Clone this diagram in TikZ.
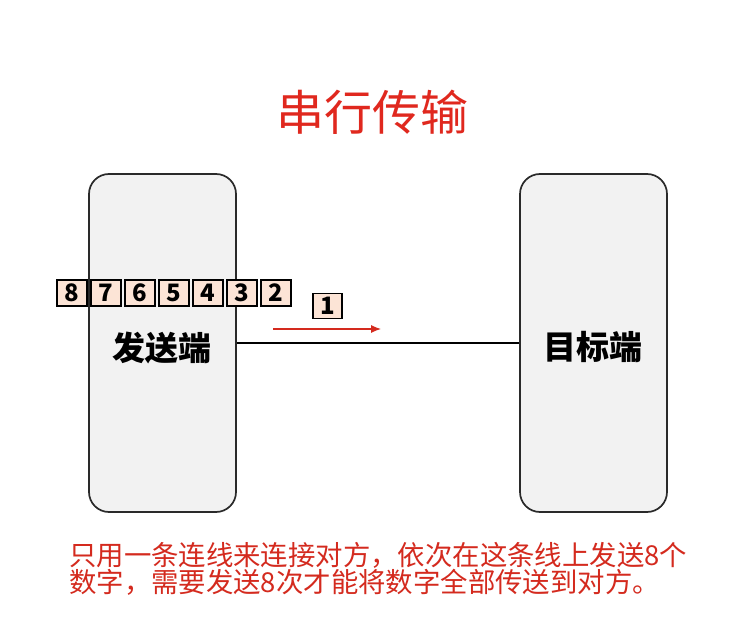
\documentclass[tikz,border=0pt]{standalone}
\usepackage{fontspec}
\setmainfont{Noto Sans CJK SC}
\newfontfamily\cjk{Noto Sans CJK SC}
\usetikzlibrary{arrows.meta}
\definecolor{titlered}{HTML}{E0281E}
\definecolor{notered}{HTML}{D42A1E}
\definecolor{endfill}{HTML}{F2F2F2}
\definecolor{endline}{HTML}{2A2A2A}
\definecolor{bitfill}{HTML}{FCE4D6}
\tikzset{
  endpoint/.style={draw=endline, line width=1.7pt, fill=endfill, rounded corners=20pt,
    minimum width=147pt, minimum height=338pt, inner sep=0pt},
  endlabel/.style={font=\cjk\bfseries\fontsize{33}{33}\selectfont, text=black, inner sep=0pt},
  bitbox/.style={draw=black, line width=1.4pt, fill=bitfill, minimum width=30pt,
    minimum height=26pt, inner sep=0pt, font=\cjk\bfseries\fontsize{24}{24}\selectfont},
  link/.style={line width=1.7pt, draw=black},
  flow/.style={draw=notered, line width=1.1pt, -{Latex[length=10pt,width=8pt]}},
}
\begin{document}
\begin{tikzpicture}[x=1pt, y=-1pt]
\useasboundingbox (0,0) rectangle (750,623);
\fill[white] (0,0) rectangle (750,623);

% title
\node[font=\cjk\fontsize{48}{48}\selectfont, text=titlered, inner sep=0pt] (title) at (372,112) {串行传输};

% the two end stations
\node[endpoint] (src) at (162.5,343) {};
\node[endpoint] (dst) at (593.5,343) {};
\node[endlabel] (srclabel) at (162,348) {发送端};
\node[endlabel] (dstlabel) at (593,347) {目标端};

% the single wire between them
\draw[link] (src.east) -- (dst.west);

% direction of travel
\coordinate (flowstart) at (273,329);
\coordinate (flowend) at (381,329);
\draw[flow] (flowstart) -- (flowend);

% bits waiting to be sent
\foreach \d/\x in {8/72,7/106,6/140,5/174,4/208,3/242,2/276}{
  \node[bitbox] (bit\d) at (\x,293) {\d};
}
% bit on the wire
\node[bitbox, minimum width=29pt, minimum height=25pt] (bit1) at (327.5,306) {1};

% note
\node[font=\cjk\fontsize{27.4}{27}\selectfont, text=notered, align=left, anchor=north west, inner sep=0pt] (note) at (69,542)
  {只用一条连线来连接对方，依次在这条线上发送8个\\数字，需要发送8次才能将数字全部传送到对方。};
\end{tikzpicture}
\end{document}
